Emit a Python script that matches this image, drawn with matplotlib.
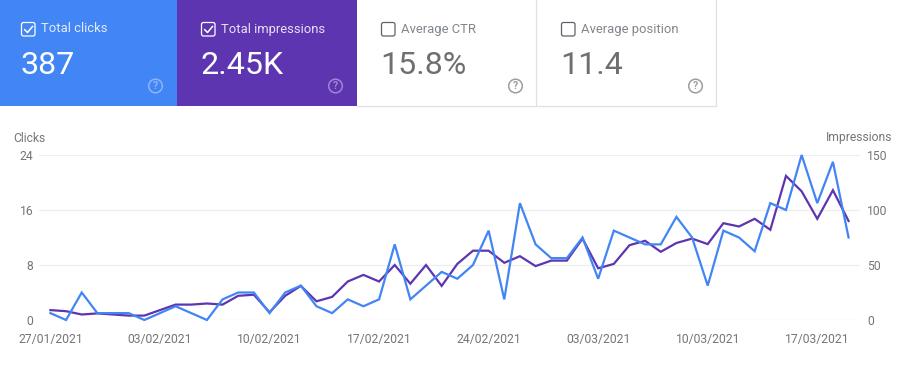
import numpy as np
import matplotlib
matplotlib.use('Agg')
import matplotlib.pyplot as plt
from matplotlib.patches import Rectangle, FancyBboxPatch, Circle

plt.rcParams['font.family'] = ['Roboto', 'DejaVu Sans']

W = 906
H = 367

clicks = [1, 0, 4, 1, 1, 1, 0, 1, 2, 1, 0, 3, 4, 4, 1, 4, 5, 2, 1, 3, 2, 3,
          11, 3, 5, 7, 6, 8, 13, 3, 17, 11, 9, 9, 12, 6, 13, 12, 11, 11, 15,
          12, 5, 13, 12, 10, 17, 16, 24, 17, 23, 12]
impressions = [9, 8, 5, 6, 5, 4, 4, 9, 14, 14, 15, 14, 22, 23, 7, 22, 31, 17,
               21, 35, 41, 35, 50, 33, 50, 31, 51, 63, 63, 52, 58, 49, 54, 54,
               74, 47, 51, 68, 72, 62, 70, 74, 69, 88, 85, 92, 82, 131, 117,
               92, 118, 90]
tick_days = [0, 7, 14, 21, 28, 35, 42, 49]
date_labels = ['27/01/2021', '03/02/2021', '10/02/2021', '17/02/2021',
               '24/02/2021', '03/03/2021', '10/03/2021', '17/03/2021']
clicks_ticks = [0, 8, 16, 24]
impressions_ticks = [0, 50, 100, 150]

card_titles = ['Total clicks', 'Total impressions', 'Average CTR', 'Average position']
card_values = ['387', '2.45K', '15.8%', '11.4']
card_edges = [0, 177, 357, 537, 717]
card_pads = [21, 24, 24, 24]
card_colors = ['#4285f4', '#5e35b1', 'white', 'white']
card_checked = [True, True, False, False]

BLUE = '#4285f4'
PURPLE = '#5e35b1'
GREY = '#757575'

fig = plt.figure(figsize=(W / 100, H / 100), dpi=100)

# chart, placed in pixels
left, right, top, bottom = 39, 860, 155, 320
rect = [left / W, 1 - bottom / H, (right - left) / W, (bottom - top) / H]
ax = fig.add_axes(rect)
ax2 = ax.twinx()
ax.set_zorder(2)
ax2.set_zorder(1)
ax.patch.set_visible(False)

days = np.arange(len(clicks))
ax2.plot(days, impressions, color=PURPLE, lw=1.6, clip_on=False, solid_joinstyle='miter')
ax.plot(days, clicks, color=BLUE, lw=1.6, clip_on=False, solid_joinstyle='miter')

ax.set_xlim(-0.73, 51.73)
ax.set_ylim(0, 24)
ax2.set_ylim(0, 150)
ax.set_xticks(tick_days)
ax.set_xticklabels(date_labels)
ax.set_yticks(clicks_ticks)
ax2.set_yticks(impressions_ticks)
ax2.grid(axis='y', color='#eeeeee', lw=0.9)
ax2.set_axisbelow(True)
for a in (ax, ax2):
    for s in a.spines.values():
        s.set_visible(False)
    a.tick_params(length=0, labelsize=8.7, labelcolor=GREY)
ax.tick_params(axis='x', pad=9.5)
ax.tick_params(axis='y', pad=4)
ax2.tick_params(axis='y', pad=5)

# overlay in pixel coordinates for the cards and axis titles
ov = fig.add_axes([0, 0, 1, 1], zorder=3)
ov.set_xlim(0, W)
ov.set_ylim(H, 0)
ov.axis('off')

ov.text(13, 138, 'Clicks', fontsize=8.7, color=GREY, va='center', ha='left')
ov.text(892, 138, 'Impressions', fontsize=8.7, color=GREY, va='center', ha='right')

for i in range(4):
    x0 = card_edges[i]
    x1 = card_edges[i + 1]
    pad = card_pads[i]
    ov.add_patch(Rectangle((x0, 0), x1 - x0, 106, fc=card_colors[i], ec='none'))
    if card_checked[i]:
        fg = 'white'
        title_color = (1, 1, 1, 0.85)
        help_color = (1, 1, 1, 0.4)
        box_color = 'white'
    else:
        fg = '#6f6f6f'
        title_color = '#80868b'
        help_color = '#9e9e9e'
        box_color = '#5f6368'
        # thin card border
        ov.plot([x0, x1 - 1, x1 - 1], [106, 106, 0], color='#e0e0e0', lw=0.9)
    bx = x0 + pad + 0.5
    by = 22.5
    ov.add_patch(FancyBboxPatch((bx + 1, by + 1), 11.5, 11.5,
                                boxstyle='round,pad=1,rounding_size=2',
                                fc='none', ec=box_color, lw=0.9))
    if card_checked[i]:
        ov.plot([bx + 3.2, bx + 6, bx + 11], [by + 7.2, by + 10, by + 4],
                color='white', lw=1.1)
    ov.text(x0 + pad + 20, 29, card_titles[i], fontsize=9.4, color=title_color,
            va='center', ha='left')
    ov.text(x0 + pad - 0.5, 66, card_values[i], fontsize=23.2, color=fg,
            va='center', ha='left')
    hx = x1 - 21.5
    ov.add_patch(Circle((hx, 86), 6.8, fc='none', ec=help_color, lw=1.1))
    ov.text(hx, 86.3, '?', fontsize=7.5, color=help_color, va='center', ha='center',
            fontweight='bold')

fig.savefig('out.png', dpi=100)
